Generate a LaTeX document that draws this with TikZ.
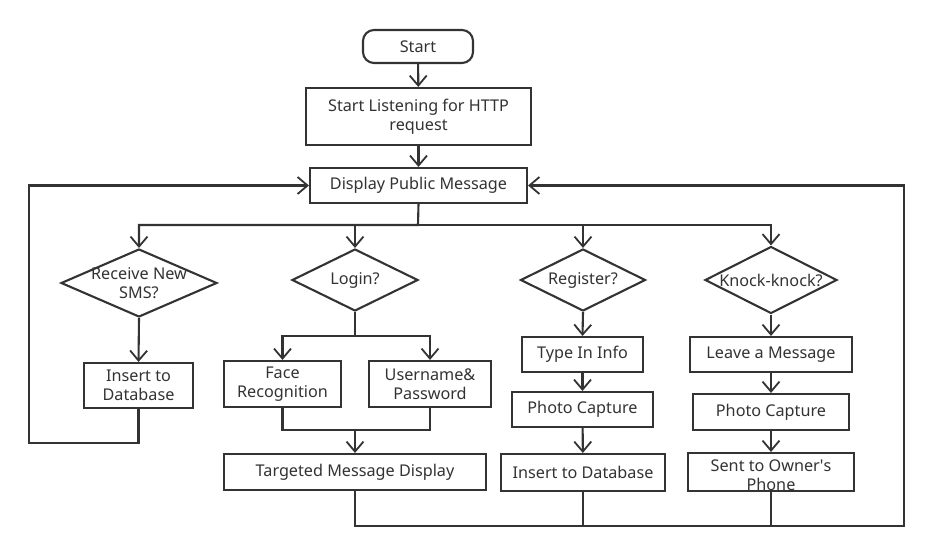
\documentclass[tikz,border=0pt]{standalone}
\usepackage{fontspec}
\setmainfont{Noto Sans}
\usetikzlibrary{arrows.meta,shapes.geometric}
\definecolor{ink}{RGB}{51,51,51}
\begin{document}
\begin{tikzpicture}[x=1pt,y=-1pt,
  every node/.style={font=\fontsize{16.2}{19.5}\selectfont, text=ink},
  box/.style={draw=ink, line width=2.1pt, rectangle, inner sep=0pt, align=center},
  term/.style={box, rounded corners=11pt},
  dia/.style={draw=ink, line width=2.1pt, diamond, inner sep=0pt},
  ln/.style={draw=ink, line width=2.1pt},
  arr/.style={ln, -{Straight Barb[length=10pt,width=17pt,line width=1.8pt]}}
]
\useasboundingbox (0,0) rectangle (934,557);
\fill[white] (0,0) rectangle (934,557);

% top
\node[term, minimum width=110pt, minimum height=33pt] (start) at (418,46.5) {Start};
\node[box, minimum width=225pt, minimum height=57pt] (listen) at (418.5,116.5) {Start Listening for HTTP\\request};
\node[box, minimum width=217pt, minimum height=35pt] (disp) at (418.5,185.5) {Display Public Message};

% decisions
\node[dia, minimum width=156pt, minimum height=68pt, label={[align=center, text=ink]center:Receive New\\SMS?}] (d1) at (139,283) {};
\node[dia, minimum width=126pt, minimum height=62pt, label={[text=ink]center:Login?}] (d2) at (355,280) {};
\node[dia, minimum width=125pt, minimum height=62pt, label={[text=ink]center:Register?}] (d3) at (583,280) {};
\node[dia, minimum width=132pt, minimum height=67pt, label={[text=ink]center:Knock-knock?}] (d4) at (771,280) {};

% column 1
\node[box, minimum width=109pt, minimum height=45pt] (ins1) at (138.5,385.5) {Insert to\\Database};

% column 2
\node[box, minimum width=117pt, minimum height=46pt] (face) at (282.5,384) {Face\\Recognition};
\node[box, minimum width=122pt, minimum height=46pt] (user) at (430,384) {Username\&\\Password};
\node[box, minimum width=262pt, minimum height=36pt] (target) at (355,472) {Targeted Message Display};

% column 3
\node[box, minimum width=121pt, minimum height=35pt] (type) at (582.5,354.5) {Type In Info};
\node[box, minimum width=141pt, minimum height=35pt] (photo1) at (582.5,409.5) {Photo Capture};
\node[box, minimum width=164pt, minimum height=37pt] (ins2) at (583,472.5) {Insert to Database};

% column 4
\node[box, minimum width=162pt, minimum height=35pt] (leave) at (771,354.5) {Leave a Message};
\node[box, minimum width=156pt, minimum height=36pt] (photo2) at (771,412) {Photo Capture};
\node[box, minimum width=166pt, minimum height=38pt, label={[align=center, text=ink, yshift=-3pt]center:Sent to Owner\textquotesingle s\\Phone}] (sent) at (771,472) {};

% junction coordinates
\coordinate (br) at (418,225);
\coordinate (ls) at (355,336);
\coordinate (lm) at (355,430);
\coordinate (lb) at (29,443);
\coordinate (rb) at (904,526);

% connectors
\draw[arr] (start) -- (listen);
\draw[arr] (listen) -- (disp);
\draw[arr] (disp.south) -- (br) -| (d1.north);
\draw[arr] (br) -| (d2.north);
\draw[arr] (br) -| (d3.north);
\draw[arr] (br) -| (d4.north);

\draw[arr] (d1.south) -- (ins1.north);
\draw[arr] (ins1.south) |- (lb) |- (disp.west);

\draw[ln] (d2.south) -- (ls);
\draw[arr] (ls) -| (face.north);
\draw[arr] (ls) -| (user.north);
\draw[ln] (face.south) |- (lm) -| (user.south);
\draw[arr] (lm) -- (target.north);
\draw[arr] (target.south) |- (rb) |- (disp.east);

\draw[arr] (d3.south) -- (type.north);
\draw[arr] (type) -- (photo1);
\draw[arr] (photo1) -- (ins2);
\draw[ln] (ins2.south) |- (rb);

\draw[arr] (d4.south) -- (leave.north);
\draw[arr] (leave) -- (photo2);
\draw[arr] (photo2) -- (sent);
\draw[ln] (sent.south) |- (rb);
\end{tikzpicture}
\end{document}
